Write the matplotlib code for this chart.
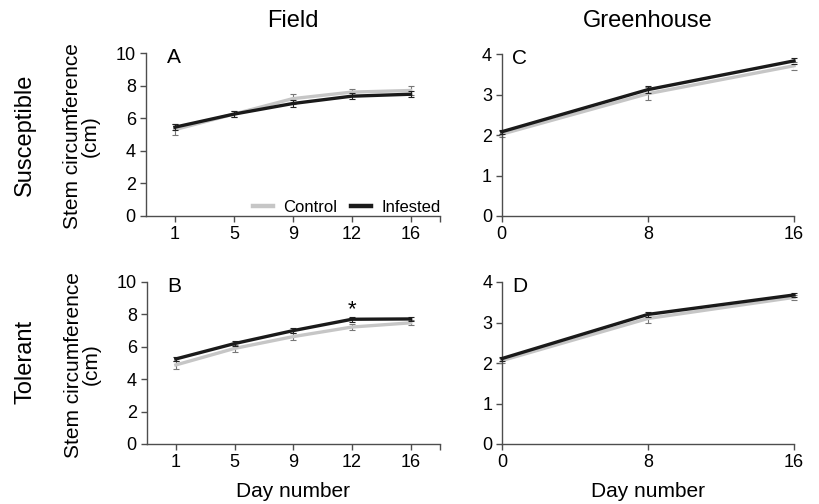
import numpy as np
import matplotlib.pyplot as plt
from matplotlib.lines import Line2D

plt.rcParams['font.family'] = ['Liberation Sans', 'DejaVu Sans']

# Field: categorical days
field_days = ['1', '5', '9', '12', '16']
# Greenhouse: numeric days
gh_days = [0, 8, 16]

# A: field, susceptible
a_control = [5.3, 6.25, 7.2, 7.6, 7.7]
a_control_err = [0.33, 0.2, 0.3, 0.22, 0.27]
a_infested = [5.45, 6.25, 6.9, 7.35, 7.47]
a_infested_err = [0.2, 0.18, 0.22, 0.2, 0.18]

# B: field, tolerant
b_control = [4.88, 5.9, 6.63, 7.22, 7.48]
b_control_err = [0.22, 0.2, 0.22, 0.2, 0.15]
b_infested = [5.25, 6.2, 7.0, 7.7, 7.72]
b_infested_err = [0.15, 0.15, 0.15, 0.15, 0.13]

# C: greenhouse, susceptible
c_control = [2.02, 3.02, 3.71]
c_control_err = [0.07, 0.16, 0.1]
c_infested = [2.08, 3.12, 3.83]
c_infested_err = [0.05, 0.08, 0.08]

# D: greenhouse, tolerant
d_control = [2.06, 3.1, 3.62]
d_control_err = [0.06, 0.1, 0.06]
d_infested = [2.11, 3.2, 3.68]
d_infested_err = [0.05, 0.07, 0.06]

ctrl_col = '#c6c6c6'
inf_col = '#1a1a1a'
spine_col = '#4d4d4d'
tick_fs = 13
lab_fs = 15
head_fs = 17

fig = plt.figure(figsize=(8.19, 5.04), dpi=100)
W, H = 819, 504


def make_ax(x0, x1, ytop, ybot):
    return fig.add_axes([x0 / W, 1 - ybot / H, (x1 - x0) / W, (ybot - ytop) / H])


axA = make_ax(145.5, 440, 53, 216)
axB = make_ax(146.5, 440, 282, 444)
axC = make_ax(501.7, 794, 54, 216)
axD = make_ax(502, 794, 282, 444)


def draw(ax, x, ctrl, cerr, inf, ierr):
    ax.errorbar(x, ctrl, yerr=cerr, color=ctrl_col, lw=2.4, ecolor='#777777',
                elinewidth=0.8, capsize=2, capthick=0.8, zorder=2)
    ax.errorbar(x, inf, yerr=ierr, color=inf_col, lw=2.4, ecolor='#222222',
                elinewidth=0.8, capsize=2, capthick=0.8, zorder=3)


def style(ax):
    for s in ['top', 'right']:
        ax.spines[s].set_visible(False)
    for s in ['left', 'bottom']:
        ax.spines[s].set_color(spine_col)
        ax.spines[s].set_linewidth(1.0)
    ax.tick_params(direction='out', length=4, width=1.0, color=spine_col,
                   labelsize=tick_fs, pad=3)


xf = np.arange(len(field_days))
for ax, c, ce, i, ie in [(axA, a_control, a_control_err, a_infested, a_infested_err),
                         (axB, b_control, b_control_err, b_infested, b_infested_err)]:
    draw(ax, xf, c, ce, i, ie)
    style(ax)
    ax.set_xlim(-0.5, 4.5)
    ax.set_xticks(list(xf) + [4.5])
    ax.set_xticklabels(field_days + [''])
    ax.set_ylim(0, 10)
    ax.set_yticks([0, 2, 4, 6, 8, 10])
    ax.set_ylabel('Stem circumference\n(cm)', fontsize=lab_fs, linespacing=0.95)
    ax.yaxis.set_label_coords(-0.155, 0.49)

for ax, c, ce, i, ie in [(axC, c_control, c_control_err, c_infested, c_infested_err),
                         (axD, d_control, d_control_err, d_infested, d_infested_err)]:
    draw(ax, gh_days, c, ce, i, ie)
    style(ax)
    ax.set_xlim(0, 16)
    ax.set_xticks(gh_days)
    ax.set_ylim(0, 4)
    ax.set_yticks([0, 1, 2, 3, 4])

for ax in [axA, axB, axC, axD]:
    for t in ax.get_lines():
        t.set_clip_on(False)

handles = [Line2D([], [], color=ctrl_col, lw=3.2), Line2D([], [], color=inf_col, lw=3.2)]
axA.legend(handles, ['Control', 'Infested'], loc='lower right', ncol=2,
           frameon=False, fontsize=12, handlelength=1.2, columnspacing=0.85,
           handletextpad=0.6, borderaxespad=0.0, bbox_to_anchor=(1.025, -0.035))

axA.text(0.072, 0.975, 'A', transform=axA.transAxes, fontsize=lab_fs, va='center')
axB.text(0.072, 0.975, 'B', transform=axB.transAxes, fontsize=lab_fs, va='center')
axC.text(0.034, 0.975, 'C', transform=axC.transAxes, fontsize=lab_fs, va='center')
axD.text(0.034, 0.975, 'D', transform=axD.transAxes, fontsize=lab_fs, va='center')

axB.text(3, 8.3, '*', ha='center', va='center', fontsize=16)

fig.text(293 / W, 1 - 497 / H, 'Day number', ha='center', va='baseline', fontsize=lab_fs)
fig.text(648 / W, 1 - 497 / H, 'Day number', ha='center', va='baseline', fontsize=lab_fs)

fig.text(293 / W, 1 - 27 / H, 'Field', ha='center', va='baseline', fontsize=head_fs)
fig.text(648 / W, 1 - 27 / H, 'Greenhouse', ha='center', va='baseline', fontsize=head_fs)
fig.text(25 / W, 1 - 135 / H, 'Susceptible', rotation=90, ha='center', va='center',
         fontsize=head_fs)
fig.text(25 / W, 1 - 362 / H, 'Tolerant', rotation=90, ha='center', va='center',
         fontsize=head_fs)

fig.savefig('out.png', dpi=100)
